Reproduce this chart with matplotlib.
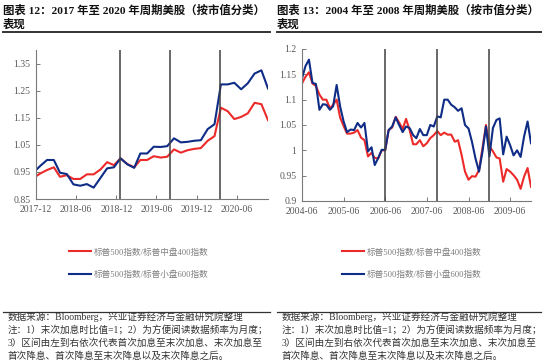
import numpy as np
import pandas as pd
import matplotlib
matplotlib.use("Agg")
import matplotlib.pyplot as plt
import matplotlib.dates as mdates
from matplotlib.lines import Line2D

plt.rcParams['font.family'] = ['Liberation Serif', 'Noto Sans CJK SC', 'DejaVu Sans']

# ---- data: left panel, 2017-2020 (monthly, from 2017-11) ----
left_dates = pd.date_range('2017-11-01', periods=36, freq='MS') + pd.Timedelta(days=19)
left_mid = [0.928, 0.944, 0.957, 0.967, 0.932, 0.938, 0.924, 0.924, 0.941, 0.941,
            0.959, 0.986, 0.975, 1.000, 0.979, 0.967, 0.994, 0.994, 1.008, 1.003,
            1.006, 1.033, 1.021, 1.030, 1.035, 1.038, 1.065, 1.082, 1.187, 1.174,
            1.145, 1.153, 1.166, 1.205, 1.200, 1.141]
left_small = [0.948, 0.972, 0.994, 0.994, 0.947, 0.942, 0.904, 0.899, 0.905, 0.892,
              0.928, 0.963, 0.967, 1.000, 0.978, 0.965, 1.018, 1.018, 1.043, 1.042,
              1.045, 1.074, 1.059, 1.061, 1.065, 1.067, 1.108, 1.126, 1.273, 1.273,
              1.279, 1.255, 1.277, 1.313, 1.325, 1.258]
left_events = ['2018-12-19', '2019-07-31', '2020-03-16']
left_ticks = ['2017-12', '2018-06', '2018-12', '2019-06', '2019-12', '2020-06']

# ---- data: right panel, 2004-2009 (monthly) ----
right_dates = pd.date_range('2004-06-01', periods=67, freq='MS')
right_mid = [1.132, 1.145, 1.154, 1.132, 1.127, 1.110, 1.100, 1.100, 1.083, 1.090,
             1.100, 1.065, 1.048, 1.033, 1.033, 1.035, 1.040, 1.025, 1.020, 0.988,
             0.995, 0.985, 0.984, 1.000, 1.000, 1.040, 1.045, 1.066, 1.055, 1.042,
             1.062, 1.040, 1.012, 1.012, 1.020, 1.008, 1.014, 1.024, 1.030, 1.038,
             1.030, 1.035, 1.031, 1.031, 1.017, 1.020, 0.991, 0.958, 0.942, 0.949,
             0.948, 0.961, 1.004, 1.050, 1.008, 0.998, 0.986, 0.984, 0.938, 0.963,
             0.958, 0.951, 0.942, 0.924, 0.948, 0.965, 0.928]
right_small = [1.142, 1.166, 1.179, 1.133, 1.131, 1.080, 1.091, 1.090, 1.080, 1.087,
               1.129, 1.087, 1.057, 1.036, 1.041, 1.040, 1.054, 1.045, 1.054, 0.998,
               1.006, 0.971, 0.985, 1.001, 1.001, 1.040, 1.047, 1.065, 1.050, 1.036,
               1.047, 1.044, 1.030, 1.024, 1.042, 1.030, 1.030, 1.050, 1.047, 1.067,
               1.065, 1.100, 1.100, 1.090, 1.085, 1.078, 1.083, 1.050, 1.043, 1.017,
               0.984, 0.958, 0.997, 1.047, 0.988, 1.044, 1.060, 1.063, 0.992, 1.027,
               1.010, 0.990, 1.000, 0.987, 1.027, 1.057, 1.014]
right_events = ['2006-06-01', '2007-09-01', '2008-12-01']
right_ticks = ['2004-06', '2005-06', '2006-06', '2007-06', '2008-06', '2009-06']

label_mid = '标普500指数/标普中盘400指数'
label_small = '标普500指数/标普小盘600指数'

titles = ['图表 12：2017 年至 2020 年周期美股（按市值分类）',
          '图表 13：2004 年至 2008 年周期美股（按市值分类）']
notes = ['数据来源：Bloomberg，兴业证券经济与金融研究院整理',
         '注：1）末次加息时比值=1；2）为方便阅读数据频率为月度；',
         '3）区间由左到右依次代表首次加息至末次加息、末次加息至',
         '首次降息、首次降息至末次降息以及末次降息之后。']

RED = '#ec2a2a'
BLUE = '#0f2c86'
W, H = 550, 362

fig = plt.figure(figsize=(W / 100, H / 100), dpi=100)


def px_axes(x0, y0, x1, y1):
    return fig.add_axes([x0 / W, 1 - y1 / H, (x1 - x0) / W, (y1 - y0) / H])


def style(ax, ticks, ylim, yticks, yfmt):
    for s in ['top', 'right']:
        ax.spines[s].set_visible(False)
    for s in ['left', 'bottom']:
        ax.spines[s].set_color('#7a7a7a')
        ax.spines[s].set_linewidth(0.8)
    ax.set_ylim(*ylim)
    ax.set_yticks(yticks)
    ax.set_yticklabels([yfmt(v) for v in yticks])
    ax.set_xticks([pd.Timestamp(t + '-01') for t in ticks])
    ax.set_xticklabels(ticks)
    ax.tick_params(direction='in', length=3, width=0.7, color='#7a7a7a',
                   labelsize=7, labelcolor='#595959')
    ax.tick_params(axis='y', pad=4)
    ax.tick_params(axis='x', pad=4)


# left panel
ax1 = px_axes(36, 50, 268, 199)
l1, = ax1.plot(left_dates, left_mid, color=RED, lw=1.5)
l2, = ax1.plot(left_dates, left_small, color=BLUE, lw=1.5)
for d in left_events:
    ax1.axvline(pd.Timestamp(d), color='#404040', lw=1.1)
ax1.set_xlim(pd.Timestamp('2017-12-01'), left_dates[-1])
style(ax1, left_ticks, (0.85, 1.40), [0.85, 0.95, 1.05, 1.15, 1.25, 1.35],
      lambda v: f'{v:.2f}')

# right panel
ax2 = px_axes(302, 49, 531, 201)
ax2.plot(right_dates, right_mid, color=RED, lw=1.5)
ax2.plot(right_dates, right_small, color=BLUE, lw=1.5)
for d in right_events:
    ax2.axvline(pd.Timestamp(d), color='#404040', lw=1.1)
ax2.set_xlim(right_dates[0], right_dates[-1])
style(ax2, right_ticks, (0.9, 1.2), [0.9, 0.95, 1.0, 1.05, 1.1, 1.15, 1.2],
      lambda v: f'{v:g}')

# legends
for x0 in [69, 342]:
    fig.legend([l1, l2], [label_mid, label_small], loc='upper left',
               bbox_to_anchor=(x0 / W, 1 - 248 / H), frameon=False,
               fontsize=6.2, labelcolor='#7f7f7f', handlelength=2.6,
               handletextpad=0.3, labelspacing=1.6, borderpad=0, borderaxespad=0)

# titles, rules and notes
for x0, x1, title in [(3, 270, titles[0]), (277, 541, titles[1])]:
    fig.text(x0 / W, 1 - 10.5 / H, title, fontsize=8.2, fontweight='bold',
             va='center', ha='left', color='#111111')
    fig.text(x0 / W, 1 - 24.5 / H, '表现', fontsize=8.2, fontweight='bold',
             va='center', ha='left', color='#111111')
    fig.add_artist(Line2D([x0 / W, x1 / W], [1 - 31.7 / H] * 2, color='#333333', lw=1.4))
    fig.add_artist(Line2D([x0 / W, x1 / W], [1 - 312 / H] * 2, color='#333333', lw=0.9))
    for i, line in enumerate(notes):
        fig.text((x0 + 5) / W, 1 - (316.5 + 13.2 * i) / H, line, fontsize=6.9,
                 va='center', ha='left', color='#333333')

fig.savefig('out.png', dpi=100)
